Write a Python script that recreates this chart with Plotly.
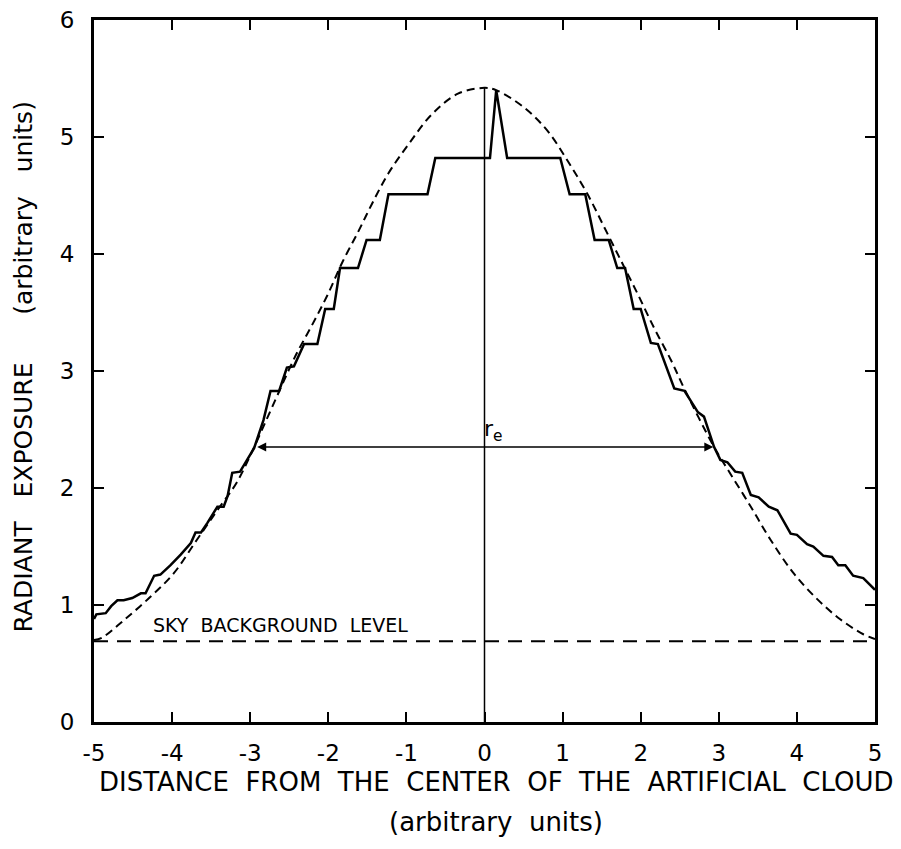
import plotly.graph_objects as go

# ---- data ----
measured_x = [-5.00, -4.97, -4.85, -4.78, -4.70, -4.62, -4.51, -4.40, -4.34, -4.23, -4.15, -4.02,
              -3.89, -3.76, -3.70, -3.63, -3.55, -3.42, -3.34, -3.29, -3.23, -3.13, -3.04, -2.95,
              -2.83, -2.74, -2.63, -2.53, -2.44, -2.31, -2.14, -2.04, -1.93, -1.85, -1.62, -1.51,
              -1.34, -1.23, -0.73, -0.63, 0.07, 0.15, 0.29, 0.97, 1.09, 1.29, 1.41, 1.59, 1.70,
              1.80, 1.91, 2.00, 2.13, 2.22, 2.43, 2.56, 2.73, 2.81, 2.94, 3.02, 3.11, 3.21, 3.30,
              3.41, 3.51, 3.64, 3.75, 3.92, 4.00, 4.13, 4.21, 4.34, 4.45, 4.53, 4.62, 4.72, 4.85, 5.00]
measured_y = [0.88, 0.92, 0.93, 0.99, 1.04, 1.04, 1.06, 1.10, 1.10, 1.25, 1.26, 1.34,
              1.43, 1.53, 1.62, 1.62, 1.70, 1.84, 1.84, 1.93, 2.13, 2.14, 2.24, 2.34,
              2.58, 2.83, 2.83, 3.03, 3.04, 3.23, 3.23, 3.53, 3.53, 3.88, 3.88, 4.12,
              4.12, 4.51, 4.51, 4.82, 4.82, 5.40, 4.82, 4.82, 4.51, 4.51, 4.12, 4.12, 3.88,
              3.88, 3.53, 3.53, 3.24, 3.23, 2.85, 2.83, 2.65, 2.61, 2.35, 2.24, 2.22, 2.14, 2.13,
              1.94, 1.92, 1.84, 1.81, 1.61, 1.60, 1.52, 1.50, 1.42, 1.41, 1.34, 1.34, 1.25, 1.23, 1.13]

model_x = [-5.00, -4.90, -4.60, -4.27, -3.98, -3.68, -3.42, -3.17, -2.95, -2.72, -2.42, -2.21,
           -2.01, -1.82, -1.61, -1.44, -1.23, -0.97, -0.68, -0.34, 0.00, 0.15, 0.51, 0.81, 1.07,
           1.32, 1.54, 1.75, 1.96, 2.17, 2.39, 2.55, 2.94, 3.15, 3.41, 3.66, 3.96, 4.26, 4.55,
           4.85, 5.00]
model_y = [0.70, 0.72, 0.88, 1.075, 1.27, 1.56, 1.81, 2.05, 2.35, 2.69, 3.13, 3.39,
           3.65, 3.93, 4.20, 4.43, 4.69, 4.94, 5.19, 5.37, 5.42, 5.40, 5.25, 5.05, 4.79,
           4.51, 4.22, 3.94, 3.66, 3.37, 3.09, 2.86, 2.35, 2.12, 1.84, 1.56, 1.27, 1.05, 0.88,
           0.75, 0.71]

sky_level = 0.69
x_range = [-5, 5]
center_x = [0, 0]
center_y = [0, 5.42]
re_half = 2.93
re_level = 2.35

x_ticks = [-5, -4, -3, -2, -1, 0, 1, 2, 3, 4, 5]
x_ticklabels = ["-5", "-4", "-3", "-2", "-1", "0", "1", "2", "3", "4", "5"]
y_ticks = [0, 1, 2, 3, 4, 5, 6]
y_ticklabels = ["0", "1", "2", "3", "4", "5", "6"]

FONT = "DejaVu Sans"

fig = go.Figure()

fig.add_trace(go.Scatter(x=x_range, y=[sky_level, sky_level], mode="lines",
                         line=dict(color="black", width=2, dash="14px,9px"),
                         hoverinfo="skip", showlegend=False))
fig.add_trace(go.Scatter(x=center_x, y=center_y, mode="lines",
                         line=dict(color="black", width=1.5),
                         hoverinfo="skip", showlegend=False))
fig.add_trace(go.Scatter(x=model_x, y=model_y, mode="lines",
                         line=dict(color="black", width=2, dash="8px,5px", shape="spline", smoothing=1.0),
                         showlegend=False))
fig.add_trace(go.Scatter(x=measured_x, y=measured_y, mode="lines",
                         line=dict(color="black", width=2.5),
                         showlegend=False))

# r_e double arrow
fig.add_annotation(x=re_half, y=re_level, ax=-re_half, ay=re_level,
                   xref="x", yref="y", axref="x", ayref="y",
                   text="", showarrow=True, arrowside="end+start",
                   arrowhead=2, arrowsize=1.2, arrowwidth=1.5, arrowcolor="black")
fig.add_annotation(x=-0.03, y=re_level, xref="x", yref="y", text="r<sub>e</sub>",
                   showarrow=False, xanchor="left", yanchor="bottom", yshift=0,
                   font=dict(family=FONT, size=22, color="black"))

fig.add_annotation(x=-4.27, y=0.83, xref="x", yref="y",
                   text="SKY  BACKGROUND  LEVEL", showarrow=False,
                   xanchor="left", yanchor="middle",
                   font=dict(family=FONT, size=19, color="black"))

# axis titles
fig.add_annotation(x=0.515, y=0, xref="paper", yref="paper", yshift=-60,
                   text="DISTANCE  FROM  THE  CENTER  OF  THE  ARTIFICIAL  CLOUD",
                   showarrow=False, xanchor="center", yanchor="middle",
                   font=dict(family=FONT, size=26, color="black"))
fig.add_annotation(x=0.515, y=0, xref="paper", yref="paper", yshift=-100,
                   text="(arbitrary  units)",
                   showarrow=False, xanchor="center", yanchor="middle",
                   font=dict(family=FONT, size=26, color="black"))
fig.add_annotation(x=0, y=0.505, xref="paper", yref="paper", xshift=-71,
                   text="RADIANT   EXPOSURE      (arbitrary   units)", textangle=-90,
                   showarrow=False, xanchor="center", yanchor="middle",
                   font=dict(family=FONT, size=25, color="black"))

axis_common = dict(showgrid=False, zeroline=False, showline=True, linecolor="black",
                   linewidth=3, mirror="ticks", ticks="inside", ticklen=10, tickwidth=2,
                   tickcolor="black", ticklabeloverflow="allow",
                   tickfont=dict(family=FONT, size=23, color="black"))

fig.update_xaxes(range=[-5, 5], tickvals=x_ticks, ticktext=x_ticklabels,
                 ticklabelstandoff=8, **axis_common)
fig.update_yaxes(range=[0, 6], tickvals=y_ticks, ticktext=y_ticklabels,
                 ticklabelstandoff=12, **axis_common)

fig.update_layout(width=901, height=849,
                  margin=dict(l=86, r=34, t=12, b=135, autoexpand=False),
                  paper_bgcolor="white", plot_bgcolor="white",
                  font=dict(family=FONT, color="black"))

fig.write_html("out.html")
